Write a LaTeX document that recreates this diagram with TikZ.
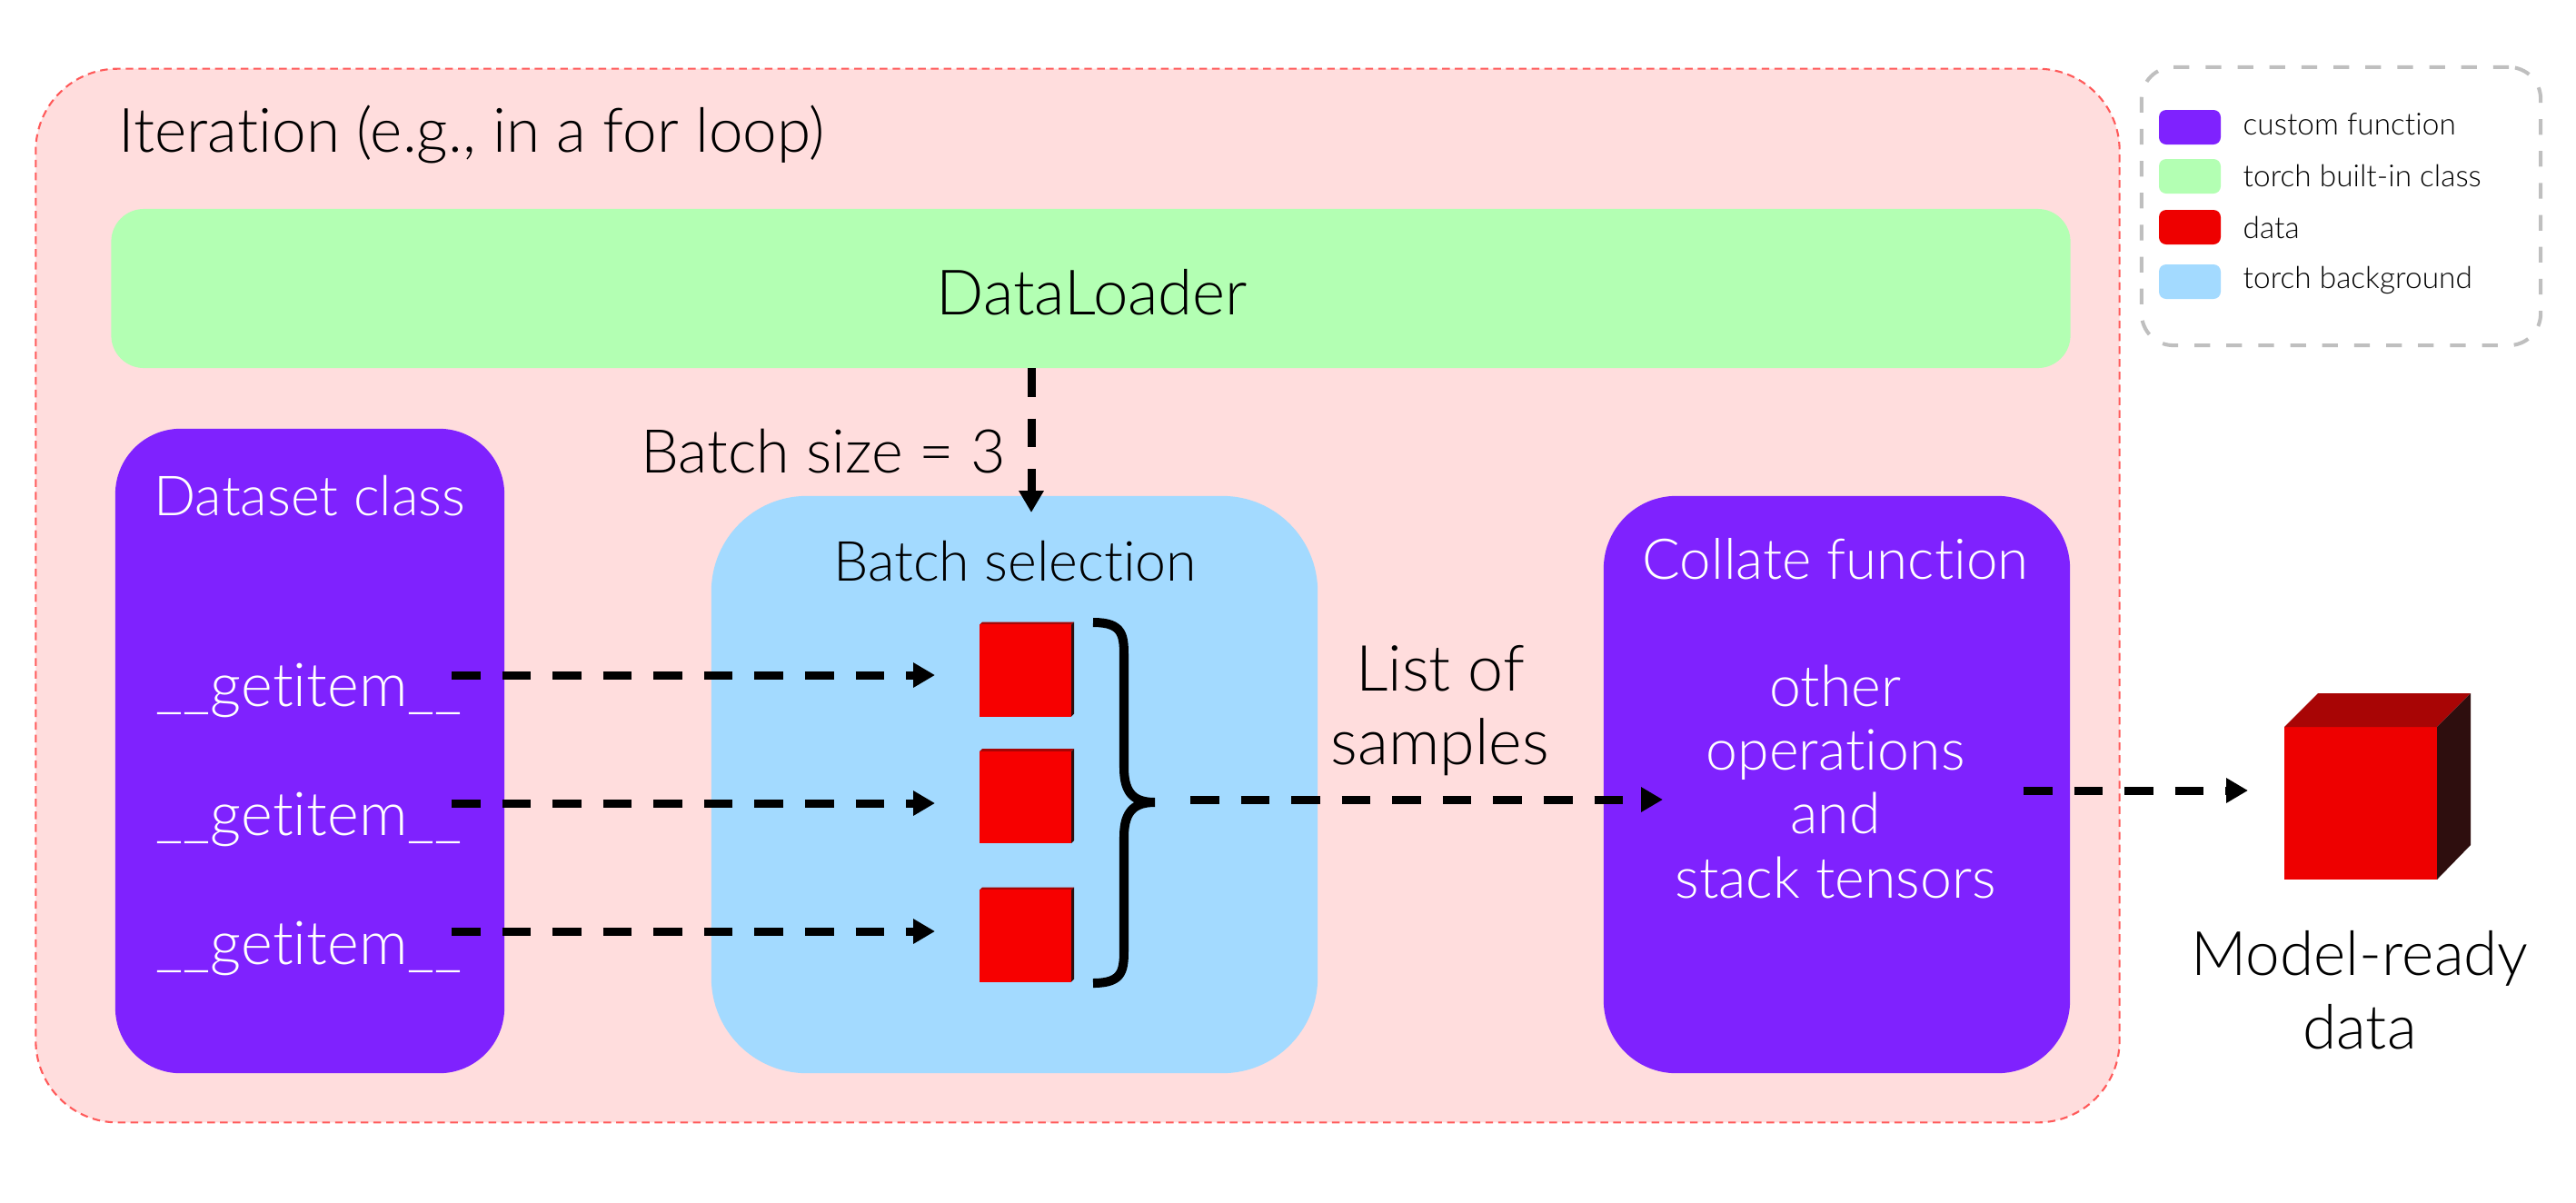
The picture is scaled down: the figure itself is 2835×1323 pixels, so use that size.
\documentclass[tikz,border=0pt]{standalone}
\usepackage{fontspec}
\setmainfont{Lato Light}[Ligatures=NoCommon]
\usetikzlibrary{arrows.meta}
\definecolor{pinkbg}{HTML}{FFDDDD}
\definecolor{pinkline}{HTML}{FF5A5A}
\definecolor{greenbox}{HTML}{B3FFB3}
\definecolor{bluebox}{HTML}{A3DAFF}
\definecolor{purplebox}{HTML}{7F22FE}
\definecolor{reddata}{HTML}{EE0000}
\definecolor{redsq}{HTML}{F70000}
\definecolor{redtop}{HTML}{A80505}
\definecolor{redside}{HTML}{2E0E0E}
\definecolor{legline}{HTML}{BFBFBF}
\begin{document}
\begin{tikzpicture}[x=0.01cm,y=-0.01cm,
  box/.style={inner sep=0pt, draw=none},
  txt/.style={inner sep=0pt, font=\fontsize{17.3}{20}\selectfont},
  legtxt/.style={inner sep=0pt, anchor=west, font=\fontsize{9.5}{11}\selectfont},
  swatch/.style={inner sep=0pt, rounded corners=0.08cm, minimum width=0.68cm, minimum height=0.38cm},
  arr/.style={line width=2.56pt, dash pattern=on 9pt off 6.8pt, -{Triangle[length=6.8pt,width=7.4pt]}},
  ]
\useasboundingbox[fill=white] (0,0) rectangle (2835,1323);

% outer iteration box
\node[box, fill=pinkbg, draw=pinkline, line width=0.6pt, dash pattern=on 2.4pt off 1.6pt,
  rounded corners=0.9cm, minimum width=22.92cm, minimum height=11.59cm] (iter) at (1186,655.5) {};
\node[inner sep=0pt, anchor=west, font=\fontsize{19.2}{22}\selectfont] (title) at (130,148) {Iteration (e.g., in a for loop)};

% DataLoader
\node[box, fill=greenbox, rounded corners=0.36cm, minimum width=21.55cm, minimum height=1.75cm] (dl) at (1200.5,317.5) {};
\node[inner sep=0pt, font=\fontsize{19.6}{22}\selectfont] (dltxt) at (1202,322) {DataLoader};

% Dataset class
\node[box, fill=purplebox, rounded corners=0.72cm, minimum width=4.28cm, minimum height=7.09cm] (ds) at (341,826.5) {};
\node[txt, text=white] (dstxt) at (341,546) {Dataset class};
\node[txt, text=white, font=\fontsize{18.9}{20}\selectfont] (g1) at (340,760) {\_\_getitem\_\_};
\node[txt, text=white, font=\fontsize{18.9}{20}\selectfont] (g2) at (340,902) {\_\_getitem\_\_};
\node[txt, text=white, font=\fontsize{18.9}{20}\selectfont] (g3) at (340,1044) {\_\_getitem\_\_};

% Batch selection
\node[box, fill=bluebox, rounded corners=1.05cm, minimum width=6.67cm, minimum height=6.35cm] (bs) at (1116.5,863.5) {};
\node[txt] (bstxt) at (1117,618) {Batch selection};

% red squares with tiny 3D edge
\foreach \n/\cy in {s1/738,s2/877.5,s3/1030}{
  \fill[redtop] (1078,\cy-50.5) -- (1081,\cy-53.5) -- (1182,\cy-53.5) -- (1179,\cy-50.5) -- cycle;
  \fill[redside] (1179,\cy-50.5) -- (1182,\cy-53.5) -- (1182,\cy+47.5) -- (1179,\cy+50.5) -- cycle;
  \node[box, fill=redsq, minimum width=1.01cm, minimum height=1.01cm] (\n) at (1128.5,\cy) {};
}

% brace
\draw[line width=2.85pt] (1203,685) .. controls (1237,685) and (1237,700) .. (1237,725)
  -- (1237,845) .. controls (1237,875) and (1250,883) .. (1271,883)
  .. controls (1250,883) and (1237,891) .. (1237,921)
  -- (1237,1042) .. controls (1237,1067) and (1237,1082) .. (1203,1082);
\coordinate (bracetip) at (1310,880);

% Collate function
\node[box, fill=purplebox, rounded corners=0.8cm, minimum width=5.13cm, minimum height=6.35cm] (cf) at (2021.5,863.5) {};
\node[txt, text=white, font=\fontsize{17.6}{20}\selectfont] (cftxt) at (2020,615) {Collate function};
\node[txt, text=white, align=center, font=\fontsize{17.8}{20}\selectfont] (ops) at (2020,860)
  {other\\[0pt]operations\\[0pt]and\\[0pt]stack tensors};

% list of samples
\node[txt, align=center, font=\fontsize{19.9}{23}\selectfont] (los) at (1585,782) {List of\\samples};

% batch size
\node[txt, font=\fontsize{18.9}{20}\selectfont] (bsz) at (906,497) {Batch size = 3};

% legend
\node[box, draw=legline, line width=1.15pt, dash pattern=on 4.9pt off 5.1pt, rounded corners=0.35cm,
  minimum width=4.39cm, minimum height=3.06cm, fill=white] (leg) at (2576.5,227) {};
\node[swatch, fill=purplebox] (lsw1) at (2410,140) {};
\node[swatch, fill=greenbox] (lsw2) at (2410,194) {};
\node[swatch, fill=reddata] (lsw3) at (2410,250) {};
\node[swatch, fill=bluebox] (lsw4) at (2410,310) {};
\node[legtxt] (lt1) at (2468,137) {custom function};
\node[legtxt] (lt2) at (2468,193) {torch built-in class};
\node[legtxt] (lt3) at (2468,250) {data};
\node[legtxt] (lt4) at (2468,308) {torch background};

% cube
\fill[reddata] (2514,800) rectangle (2682,968);
\fill[redtop] (2514,800) -- (2551,763) -- (2719,763) -- (2682,800) -- cycle;
\fill[redside] (2682,800) -- (2719,763) -- (2719,930) -- (2682,968) -- cycle;
\coordinate (cube) at (2598,884);
\node[inner sep=0pt, align=center, font=\fontsize{19.2}{23}\selectfont] (mrd) at (2597,1090) {Model-ready\\data};

% arrow coordinates
\coordinate (a1s) at (497,743); \coordinate (a1e) at (1029,743);
\coordinate (a2s) at (497,884); \coordinate (a2e) at (1029,884);
\coordinate (a3s) at (497,1025); \coordinate (a3e) at (1029,1025);
\coordinate (dls) at (1135,405); \coordinate (dle) at (1135,564);
\coordinate (cfin) at (1830,880);
\coordinate (cfout) at (2227,870); \coordinate (cubein) at (2474,870);

\draw[arr] (a1s) -- (a1e);
\draw[arr] (a2s) -- (a2e);
\draw[arr] (a3s) -- (a3e);
\draw[arr] (dls) -- (dle);
\draw[arr] (bracetip) -- (cfin);
\draw[arr] (cfout) -- (cubein);
\end{tikzpicture}
\end{document}
